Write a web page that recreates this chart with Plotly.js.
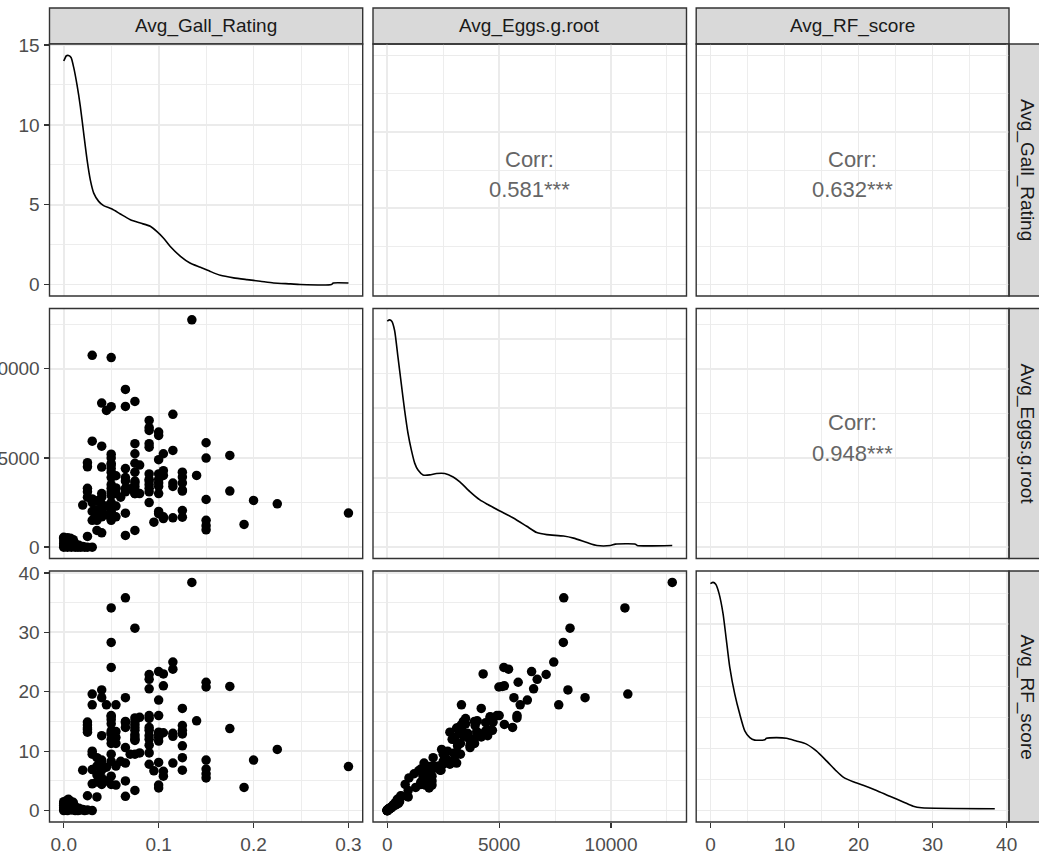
<!DOCTYPE html>
<html>
<head>
<meta charset="utf-8">
<script src="https://cdn.plot.ly/plotly-3.0.1.min.js"></script>
<style>
html,body{margin:0;padding:0;overflow:hidden;background:#fff;width:1039px;height:854px;}
#chart{position:absolute;left:-40px;top:0;width:1090px;height:854px;}
</style>
</head>
<body>
<div id="chart"></div>
<script>
// ---------------- DATA ----------------
const variables = ['Avg_Gall_Rating', 'Avg_Eggs.g.root', 'Avg_RF_score'];
const corrTitle = 'Corr:';
const corrLabels = ['0.581***', '0.632***', '0.948***']; // (gall,eggs) (gall,rf) (eggs,rf)

const gall = [
  0,0,0,0,0,0,0.002,0.002,0.003,0.004,0.004,0.005,0.005,0.006,0.006,0.007,0.008,0.008,0.009,0.01,0.01,0.011,0.012,0.013,0.014,0.015,0.016,0.018,0.02,0.022,0.025,0.03,
  0.02,
  0.025,0.025,0.025,0.025,0.025,0.025,
  0.03,0.03,0.03,0.03,0.03,0.03,
  0.035,0.035,0.035,0.035,0.035,
  0.04,0.04,0.04,0.04,0.04,0.04,0.04,0.04,0.04,
  0.045,0.045,0.045,
  0.05,0.05,0.05,0.05,0.05,0.05,0.05,0.05,0.05,0.05,0.05,0.05,0.05,0.05,0.05,0.05,
  0.055,0.055,0.055,0.055,0.055,0.055,
  0.06,
  0.065,0.065,0.065,0.065,0.065,0.065,0.065,0.065,0.065,
  0.07,
  0.075,0.075,0.075,0.075,0.075,0.075,0.075,0.075,0.075,0.075,0.075,0.075,
  0.08,0.08,
  0.09,0.09,0.09,0.09,0.09,0.09,0.09,0.09,0.09,0.09,0.09,0.09,
  0.095,
  0.1,0.1,0.1,0.1,0.1,0.1,0.1,0.1,0.1,0.1,
  0.105,0.105,0.105,0.105,0.105,
  0.115,0.115,0.115,0.115,0.115,
  0.125,0.125,0.125,0.125,0.125,0.125,0.125,
  0.135,
  0.14,
  0.15,0.15,0.15,0.15,0.15,0.15,
  0.175,0.175,
  0.19,0.2,0.225,0.3
];
const eggs = [
  0,80,200,350,500,550,30,400,150,0,520,250,450,100,350,500,0,300,180,50,420,250,0,150,60,0,100,0,40,0,0,0,
  2355,
  4730,4500,3300,3100,2800,600,
  10750,5940,2700,2500,2000,1500,
  2600,2100,1800,1500,935,
  8074,5660,4485,3000,2800,2400,2000,1700,800,
  7663,2300,1800,
  10620,7868,5210,5000,4600,4700,4400,4200,3900,3500,3300,3100,2900,2500,2000,1500,
  3315,4000,3270,3000,2300,1700,
  2800,
  7887,8840,4400,3900,3700,3300,3100,1900,654,
  3270,
  8167,5794,5233,4700,4200,3700,3600,3400,3200,3000,3000,935,
  4600,3000,
  7100,6700,6540,5800,5600,4100,3800,3700,3500,3300,3100,2500,
  1400,
  6450,6260,4900,4100,3800,3600,3400,3000,2000,1870,
  4285,5233,4020,1700,1600,
  7440,5420,3590,3400,1645,
  4200,3925,3600,3200,3140,2050,1680,
  12735,
  4020,
  5850,4990,2670,1500,1200,970,
  5140,3140,
  1270,2617,2430,1906
];
const rf = [
  0,0.2,0.5,0.9,1.2,1.5,0.1,1.0,0.4,0,1.8,0.7,1.9,0.3,1.3,1.6,0.1,1.0,0.6,0.2,1.4,0.9,0,0.5,0.3,0,0.4,0.1,0.2,0,0.1,0,
  6.8,
  14.9,13.6,14.4,13.9,13.2,2.5,
  19.6,17.8,10.0,9.5,6.9,4.5,
  8.9,7.5,6.0,4.8,2.3,
  20.3,19.0,12.6,8.5,7.8,6.8,5.0,5.5,4.4,
  17.8,7.3,5.0,
  34.1,28.3,24.1,16.0,15.8,15.3,13.4,12.9,11.3,14.6,13.0,9.5,12.0,8.3,5.8,4.4,
  17.8,13.3,11.3,12.3,7.5,4.3,
  8.3,
  35.8,19.0,14.8,15.0,10.6,14.0,8.0,5.0,2.4,
  9.5,
  30.7,15.6,14.5,13.5,12.4,11.8,12.8,15.0,14.0,9.5,12.0,3.4,
  15.7,9.7,
  22.9,22.1,20.5,16.0,14.0,12.6,12.0,11.0,15.5,13.5,9.7,7.8,
  6.7,
  23.4,18.6,16.0,12.8,11.7,12.3,13.2,8.1,4.3,3.8,
  23.0,21.0,13.1,6.6,5.8,
  25.0,23.8,13.0,12.5,8.0,
  17.2,14.3,12.9,13.5,10.9,8.9,6.8,
  38.4,
  15.1,
  21.6,20.8,8.5,7.0,6.2,5.5,
  20.9,13.8,
  3.9,8.5,10.3,7.4
];

// density curves
const gallDensX = [0,0.0028,0.005,0.0077,0.0105,0.014,0.0175,0.021,0.0246,0.028,0.0316,0.0368,0.042,0.0509,0.0596,0.0702,0.0807,0.0912,0.098,0.105,0.112,0.123,0.133,0.144,0.154,0.165,0.179,0.193,0.207,0.221,0.239,0.249,0.282,0.284,0.3];
const gallDensY = [14.0,14.33,14.35,14.22,13.6,12.5,11.15,9.48,7.81,6.56,5.73,5.21,4.94,4.73,4.42,4.06,3.85,3.65,3.33,2.92,2.40,1.77,1.35,1.08,0.83,0.58,0.42,0.31,0.21,0.10,0.04,0.0,0.0,0.1,0.1];

const eggsDensX = [0,105,209,329,478,628,777,927,1076,1226,1375,1600,1898,2197,2571,2945,3244,3692,4140,4514,5037,5635,6233,6682,7130,7877,8326,8924,9372,9970,10194,11091,11166,12735];
const eggsDensY = [3.254e-4,3.273e-4,3.25e-4,3.12e-4,2.74e-4,2.35e-4,1.97e-4,1.64e-4,1.40e-4,1.21e-4,1.11e-4,1.04e-4,1.04e-4,1.06e-4,1.06e-4,1.01e-4,0.94e-4,0.80e-4,0.68e-4,0.61e-4,0.52e-4,0.42e-4,0.30e-4,0.21e-4,0.18e-4,0.16e-4,0.13e-4,0.067e-4,0.024e-4,0.024e-4,0.043e-4,0.043e-4,0.024e-4,0.024e-4];

const rfDensX = [0,0.36,0.72,1.17,1.71,2.16,2.61,3.29,3.96,4.64,5.32,5.99,7.34,7.57,8.92,10.27,11.6,12.97,14.3,15.68,17.03,17.93,19.28,20.63,22.43,24.23,26.04,27.39,28.5,38.4];
const rfDensY = [0.0731,0.0735,0.0729,0.0699,0.0634,0.0548,0.0462,0.0375,0.0311,0.0257,0.0235,0.0227,0.0228,0.0233,0.0235,0.0233,0.0224,0.0214,0.0192,0.016,0.0127,0.0108,0.0093,0.0082,0.0065,0.0046,0.0028,0.0014,0.0009,0.0006];

// ---------------- LAYOUT GEOMETRY ----------------
const OX = 40, W = 1090, H = 854;
const cols = [[49.5,362.7],[373,686.5],[696.2,1009]];
const rows = [[44,296],[308.5,558.5],[571,822]];
const FONT = 'Liberation Sans, Arial, sans-serif';
const TICKSIZE = 19;

function xd(c){return [(cols[c][0]+OX)/W,(cols[c][1]+OX)/W];}
function yd(r){return [1-rows[r][1]/H,1-rows[r][0]/H];}

function expand(lo,hi){const d=(hi-lo)*0.05;return [lo-d,hi+d];}
const varRange = [expand(0,Math.max(...gall)), expand(0,Math.max(...eggs)), expand(0,Math.max(...rf))];
const varTick = [{dtick:0.1,minor:0.05,fmt:'.1f'},{dtick:5000,minor:2500,fmt:'d'},{dtick:10,minor:5,fmt:'d'}];
const densRange = [expand(0,Math.max(...gallDensY)), expand(0,Math.max(...eggsDensY)), expand(0,Math.max(...rfDensY))];
const densTick = [{dtick:5,minor:2.5,fmt:'d'},{dtick:1e-4,minor:5e-5,fmt:''},{dtick:0.02,minor:0.01,fmt:''}];

function axis(domain, range, tk, showLabels, anchor){
  return {
    domain: domain, range: range, anchor: anchor,
    dtick: tk.dtick, tick0: 0, tickformat: tk.fmt,
    showgrid: true, gridcolor: '#EBEBEB', gridwidth: 1.8,
    minor: {dtick: tk.minor, tick0: 0, showgrid: true, gridcolor: '#EBEBEB', gridwidth: 0.9, ticks: ''},
    zeroline: false, showline: false, fixedrange: true,
    showticklabels: showLabels,
    ticks: showLabels ? 'outside' : '',
    ticklen: 5, tickwidth: 1.3, tickcolor: '#333333',
    tickfont: {family: FONT, size: TICKSIZE, color: '#4D4D4D'}
  };
}

const layout = {
  width: W, height: H, margin: {l:0,r:0,t:0,b:0},
  paper_bgcolor: '#fff', plot_bgcolor: '#fff',
  showlegend: false, shapes: [], annotations: []
};
const traces = [];

for (let r=0;r<3;r++){
  for (let c=0;c<3;c++){
    const k = r*3+c+1;
    const s = k===1?'':k;
    const xr = varRange[c], xt = varTick[c];
    let yr, yt;
    if (r===c){ yr = densRange[r]; yt = densTick[r]; }
    else { yr = varRange[r]; yt = varTick[r]; }
    layout['xaxis'+s] = axis(xd(c), xr, xt, r===2, 'y'+s);
    layout['yaxis'+s] = axis(yd(r), yr, yt, c===0, 'x'+s);
    layout.shapes.push({type:'rect', xref:'paper', yref:'paper', x0:xd(c)[0], x1:xd(c)[1], y0:yd(r)[0], y1:yd(r)[1],
      line:{color:'#333333', width:1.4}, fillcolor:'rgba(0,0,0,0)', layer:'above'});
  }
}

// diagonal densities
const dens = [[gallDensX,gallDensY],[eggsDensX,eggsDensY],[rfDensX,rfDensY]];
for (let i=0;i<3;i++){
  const k = i*3+i+1; const s = k===1?'':k;
  traces.push({type:'scatter', mode:'lines', x:dens[i][0], y:dens[i][1], xaxis:'x'+s, yaxis:'y'+s,
    line:{color:'#000', width:1.6, shape:'spline', smoothing:0.6}, hoverinfo:'skip'});
}
// lower scatters
const vals = [gall, eggs, rf];
const pairs = [[1,0],[2,0],[2,1]]; // [row, col]
pairs.forEach(([r,c])=>{
  const k = r*3+c+1;
  traces.push({type:'scatter', mode:'markers', x:vals[c], y:vals[r], xaxis:'x'+k, yaxis:'y'+k,
    marker:{color:'#000', size:9.5, line:{width:0}}, hoverinfo:'skip'});
});
// upper correlation panels
const upper = [[0,1,0],[0,2,1],[1,2,2]]; // row, col, label index
upper.forEach(([r,c,li])=>{
  const k = r*3+c+1;
  traces.push({type:'scatter', mode:'markers', x:[], y:[], xaxis:'x'+k, yaxis:'y'+k, hoverinfo:'skip'});
  const cx = (xd(c)[0]+xd(c)[1])/2, cy = (yd(r)[0]+yd(r)[1])/2;
  layout.annotations.push({xref:'paper', yref:'paper', x:cx, y:cy, yshift:11, text:corrTitle, showarrow:false,
    xanchor:'center', yanchor:'middle', font:{family:FONT, size:22, color:'#666666'}});
  layout.annotations.push({xref:'paper', yref:'paper', x:cx, y:cy, yshift:-19.5, text:corrLabels[li], showarrow:false,
    xanchor:'center', yanchor:'middle', font:{family:FONT, size:22, color:'#666666'}});
});

// strips
for (let c=0;c<3;c++){
  const x0 = xd(c)[0], x1 = xd(c)[1];
  layout.shapes.push({type:'rect', xref:'paper', yref:'paper', x0:x0, x1:x1, y0:1-44/H, y1:1-8/H,
    line:{color:'#333333', width:1.4}, fillcolor:'#D9D9D9', layer:'below'});
  layout.annotations.push({xref:'paper', yref:'paper', x:(x0+x1)/2, y:1-26.5/H, text:variables[c], showarrow:false,
    xanchor:'center', yanchor:'middle', font:{family:FONT, size:TICKSIZE, color:'#1A1A1A'}});
}
for (let r=0;r<3;r++){
  const y0 = yd(r)[0], y1 = yd(r)[1];
  const sx0 = (1009+OX)/W, sx1 = (1045+OX)/W;
  layout.shapes.push({type:'rect', xref:'paper', yref:'paper', x0:sx0, x1:sx1, y0:y0, y1:y1,
    line:{color:'#333333', width:1.4}, fillcolor:'#D9D9D9', layer:'below'});
  layout.annotations.push({xref:'paper', yref:'paper', x:(sx0+sx1)/2, y:(y0+y1)/2, text:variables[r], showarrow:false,
    textangle:90, xanchor:'center', yanchor:'middle', font:{family:FONT, size:TICKSIZE, color:'#1A1A1A'}});
}

Plotly.newPlot('chart', traces, layout, {staticPlot:true, displayModeBar:false});
</script>
</body>
</html>
